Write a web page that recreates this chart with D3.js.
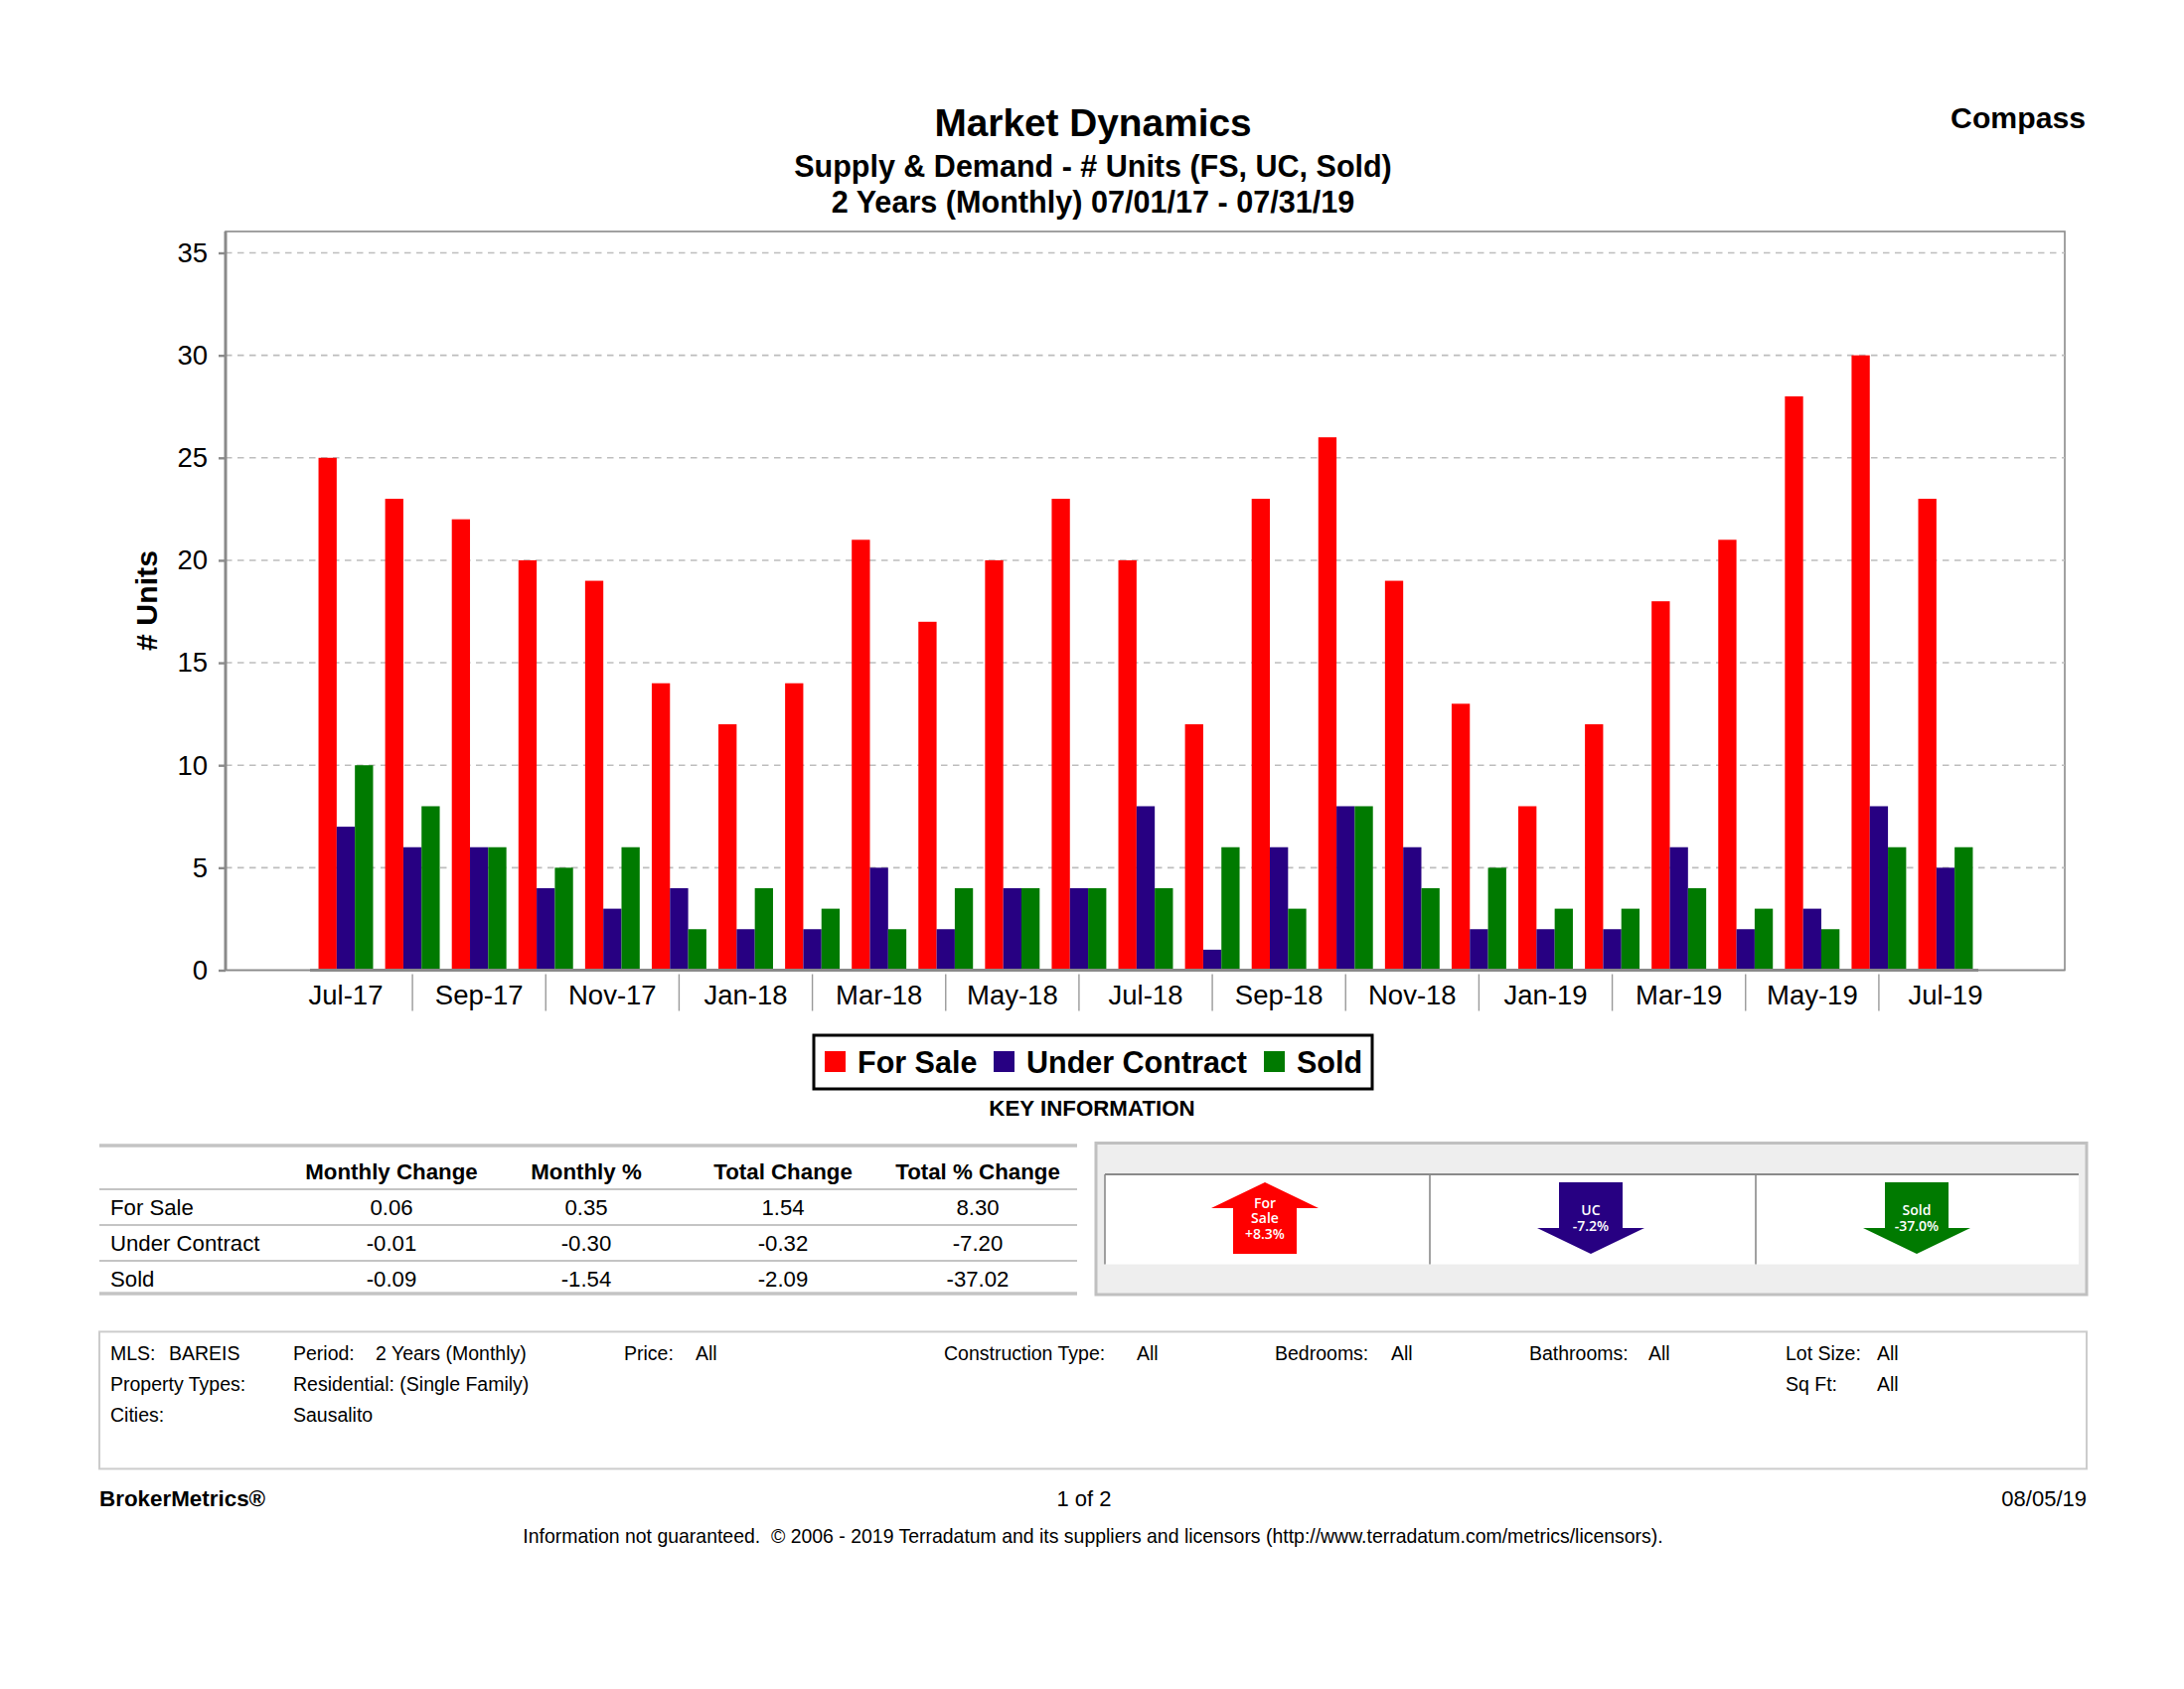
<!DOCTYPE html>
<html><head><meta charset="utf-8">
<style>html,body{margin:0;padding:0;background:#fff}svg{display:block}text{font-family:"Liberation Sans",Arial,sans-serif;fill:#000}</style>
<script src="https://cdn.jsdelivr.net/npm/d3@7"></script></head>
<body><svg id="c" width="2198" height="1700"></svg>
<script>
const months=["Jul-17","Aug-17","Sep-17","Oct-17","Nov-17","Dec-17","Jan-18","Feb-18","Mar-18","Apr-18","May-18","Jun-18","Jul-18","Aug-18","Sep-18","Oct-18","Nov-18","Dec-18","Jan-19","Feb-19","Mar-19","Apr-19","May-19","Jun-19","Jul-19"];
const forSale=[25,23,22,20,19,14,12,14,21,17,20,23,20,12,23,26,19,13,8,12,18,21,28,30,23];
const underContract=[7,6,6,4,3,4,2,2,5,2,4,4,8,1,6,8,6,2,2,2,6,2,3,8,5];
const sold=[10,8,6,5,6,2,4,3,2,4,4,4,4,6,3,8,4,5,3,3,4,3,2,6,6];
const seriesNames=["For Sale","Under Contract","Sold"];
const seriesColors=["#ff0000","#270082","#007a00"];
const yTicks=[0,5,10,15,20,25,30,35];
const tableHeaders=["Monthly Change","Monthly %","Total Change","Total % Change"];
const tableRows=["For Sale","Under Contract","Sold"];
const tableValues=[["0.06","0.35","1.54","8.30"],["-0.01","-0.30","-0.32","-7.20"],["-0.09","-1.54","-2.09","-37.02"]];
const arrowLabels=[["For","Sale","+8.3%"],["UC","-7.2%"],["Sold","-37.0%"]];
const arrowDirs=["up","down","down"];

const svg=d3.select("#c");
const seriesData=[forSale,underContract,sold];
const grey="#8a8a8a";
function txt(s,x,y,size,opt={}){
  return svg.append("text").attr("x",x).attr("y",y).attr("font-size",size)
    .attr("font-weight",opt.bold?"bold":"normal").attr("text-anchor",opt.anchor||"start").text(s);
}
// titles
txt("Market Dynamics",1100,137,38.8,{bold:1,anchor:"middle"});
txt("Supply & Demand - # Units (FS, UC, Sold)",1100,178,30.5,{bold:1,anchor:"middle"});
txt("2 Years (Monthly) 07/01/17 - 07/31/19",1100,214,30.6,{bold:1,anchor:"middle"});
txt("Compass",2099,129,30.2,{bold:1,anchor:"end"});

// plot
const L=227,R=2078,T=233,B=976.5;
const y=d3.scaleLinear().domain([0,35]).range([B,254.5]);
const x0=d3.scaleBand().domain(months).range([314.5,1991.5]).paddingInner(0.181).paddingOuter(0.09);
const x1=d3.scaleBand().domain(seriesNames).range([0,x0.bandwidth()]);
svg.append("rect").attr("x",L).attr("y",T).attr("width",R-L).attr("height",B-T).attr("fill","#fff").attr("stroke",grey).attr("stroke-width",1.6);
// grid
svg.append("g").selectAll("line").data(yTicks.filter(d=>d>0)).join("line")
  .attr("x1",L).attr("x2",R).attr("y1",d=>y(d)).attr("y2",d=>y(d))
  .attr("stroke","#bdbdbd").attr("stroke-width",1.6).attr("stroke-dasharray","6.5,5.5");
// bars
svg.append("g").selectAll("g").data(seriesData).join("g").attr("fill",(d,i)=>seriesColors[i])
  .each(function(vals,i){
    d3.select(this).selectAll("rect").data(vals).join("rect")
      .attr("x",(d,j)=>x0(months[j])+x1(seriesNames[i]))
      .attr("y",d=>y(d)).attr("width",x1.bandwidth()).attr("height",d=>y(0)-y(d));
  });
// left axis
const gy=svg.append("g").attr("transform",`translate(${L},0)`).call(d3.axisLeft(y).tickValues(yTicks).tickSize(7).tickPadding(11));
gy.select(".domain").attr("stroke",grey).attr("stroke-width",3).attr("d",`M0,${T}V${B}`);
gy.selectAll(".tick line").attr("stroke",grey).attr("stroke-width",2.4);
gy.selectAll("text").attr("font-size",27.5).attr("font-family","Liberation Sans").attr("fill","#000").attr("y",0);
// bottom baseline + axis
svg.append("line").attr("x1",L).attr("x2",R).attr("y1",B).attr("y2",B).attr("stroke",grey).attr("stroke-width",1.6);
svg.append("line").attr("x1",312).attr("x2",1991).attr("y1",B).attr("y2",B).attr("stroke",grey).attr("stroke-width",3);
const tickMonths=months.filter((m,i)=>i%2===0);
const sepMonths=months.filter((m,i)=>i%2===1);
const gx=svg.append("g").attr("transform",`translate(0,${B})`)
  .call(d3.axisBottom(x0).tickValues(tickMonths).tickSize(0).tickPadding(14.5));
gx.select(".domain").remove();
gx.selectAll("text").attr("font-size",27.5).attr("font-family","Liberation Sans").attr("fill","#000");
svg.append("g").selectAll("line").data(sepMonths).join("line")
  .attr("x1",m=>x0(m)+x0.bandwidth()/2).attr("x2",m=>x0(m)+x0.bandwidth()/2)
  .attr("y1",B+4).attr("y2",B+41).attr("stroke","#9a9a9a").attr("stroke-width",1.4);
// y title
svg.append("text").attr("transform","translate(158,604.5) rotate(-90)").attr("text-anchor","middle")
  .attr("font-size",30.3).attr("font-weight","bold").text("# Units");

// legend
svg.append("rect").attr("x",819).attr("y",1042).attr("width",562).attr("height",54).attr("fill","#fff").attr("stroke","#000").attr("stroke-width",3);
const legX=[830,1000,1272];
seriesNames.forEach((n,i)=>{
  svg.append("rect").attr("x",legX[i]).attr("y",1058).attr("width",21).attr("height",21).attr("fill",seriesColors[i]);
  txt(n,legX[i]+33,1080,30.5,{bold:1});
});
txt("KEY INFORMATION",1099,1122.5,22.3,{bold:1,anchor:"middle"});

// table
const tL=100,tR=1084;
const colX=[394,590,788,984];
const rowBase=[1223.4,1259.4,1295.4];
[[1153,3.5],[1197,1.8],[1233,1.8],[1269,1.8],[1302,3.5]].forEach(([yy,w])=>{
  svg.append("line").attr("x1",tL).attr("x2",tR).attr("y1",yy).attr("y2",yy).attr("stroke","#c4c4c4").attr("stroke-width",w);
});
tableHeaders.forEach((h,i)=>txt(h,colX[i],1187.4,22.3,{bold:1,anchor:"middle"}));
tableRows.forEach((r,i)=>{
  txt(r,111,rowBase[i],22.2);
  tableValues[i].forEach((v,j)=>txt(v,colX[j],rowBase[i],22.2,{anchor:"middle"}));
});

// arrow panel
svg.append("rect").attr("x",1103).attr("y",1150.5).attr("width",997).attr("height",152.5).attr("fill","#eeeeee").attr("stroke","#c0c0c0").attr("stroke-width",3);
svg.append("rect").attr("x",1112).attr("y",1182).attr("width",980).attr("height",90.5).attr("fill","#fff");
svg.append("line").attr("x1",1112).attr("x2",2092).attr("y1",1182).attr("y2",1182).attr("stroke",grey).attr("stroke-width",2);
[1112,1439,1767].forEach(v=>svg.append("line").attr("x1",v).attr("x2",v).attr("y1",1182).attr("y2",1272.5).attr("stroke",grey).attr("stroke-width",1.6));
const arrowCx=[1273,1601,1929];
const arrowBase={up:[1215.5,1231,1246.5],down:[1222.5,1238.5]};
arrowDirs.forEach((dir,i)=>{
  const c=arrowCx[i],t=1190,b=1262,hw=54,sw=32,hd=26;
  const pts=dir==="up"
    ?[[c,t],[c+hw,t+hd],[c+sw,t+hd],[c+sw,b],[c-sw,b],[c-sw,t+hd],[c-hw,t+hd]]
    :[[c,b],[c+hw,b-hd],[c+sw,b-hd],[c+sw,t],[c-sw,t],[c-sw,b-hd],[c-hw,b-hd]];
  svg.append("path").attr("d",d3.line()(pts)+"Z").attr("fill",seriesColors[i]);
  arrowLabels[i].forEach((s,k)=>{
    txt(s,c,arrowBase[dir][k],14,{anchor:"middle"}).style("font-family","'Open Sans'").style("font-weight","600").style("fill","#fff");
  });
});

// info box
svg.append("rect").attr("x",100).attr("y",1340.4).attr("width",2000).attr("height",138).attr("fill","#fff").attr("stroke","#cccccc").attr("stroke-width",2);
const row=[1369.4,1400.4,1431.4];
[["MLS:",111,0],["BAREIS",170,0],["Period:",295,0],["2 Years (Monthly)",378,0],["Price:",628,0],["All",700,0],
 ["Construction Type:",950,0],["All",1144,0],["Bedrooms:",1283,0],["All",1400,0],["Bathrooms:",1539,0],["All",1659,0],
 ["Lot Size:",1797,0],["All",1889,0],["Property Types:",111,1],["Residential: (Single Family)",295,1],["Sq Ft:",1797,1],["All",1889,1],
 ["Cities:",111,2],["Sausalito",295,2]].forEach(([s,xx,r])=>txt(s,xx,row[r],19.5));

// footer
txt("BrokerMetrics®",100,1516.4,22.4,{bold:1});
txt("1 of 2",1091,1516.4,22,{anchor:"middle"});
txt("08/05/19",2100,1516.4,22,{anchor:"end"});
txt("Information not guaranteed.  © 2006 - 2019 Terradatum and its suppliers and licensors (http://www.terradatum.com/metrics/licensors).",1100,1553.4,19.45,{anchor:"middle"}).style("white-space","pre");
</script></body></html>
